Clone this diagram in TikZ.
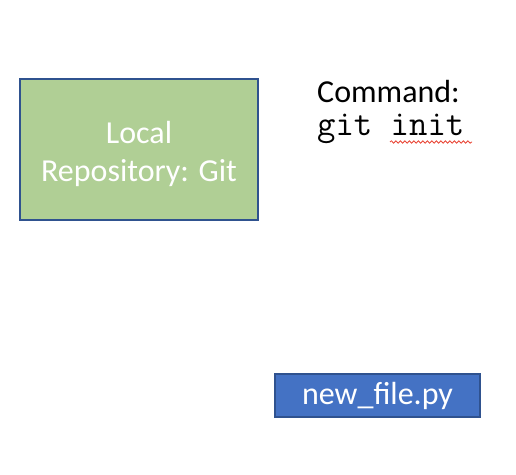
\documentclass[tikz,border=0pt]{standalone}
\usepackage{fontspec}
\setmainfont{Carlito}
\usetikzlibrary{decorations.pathmorphing}
\definecolor{boxgreen}{HTML}{B0CF95}
\definecolor{boxblue}{HTML}{4472C4}
\definecolor{boxedge}{HTML}{2F528F}
\definecolor{squig}{HTML}{E8402F}
\tikzset{
  box/.style={draw=boxedge, line width=1.3pt, inner sep=0pt, text=white,
    font=\fontsize{32}{38}\selectfont, align=center},
  label/.style={inner sep=0pt, anchor=base west, text=black}
}
\begin{document}
\begin{tikzpicture}[x=1pt,y=-1pt]
\useasboundingbox (0,0) rectangle (516,474);
\node[box, fill=boxgreen, minimum width=238pt, minimum height=141pt] (repo) at (139,149.5) {\raisebox{-4pt}[\height][\depth]{\parbox{230pt}{\centering Local\\Repository: Git}}};
\node[box, fill=boxblue, minimum width=205pt, minimum height=43pt] (file) at (377.5,395.5) {new\_file.py};
\node[label, font=\fontsize{32}{38}\selectfont] (cmd) at (317,102) {Command:};
\node[label, font=\ttfamily\fontsize{35.7}{38}\selectfont] (code) at (317,135) {git init};
\coordinate (sqa) at (390,142);
\coordinate (sqb) at (472,142);
\draw[squig, line width=0.8pt, decorate, decoration={snake, amplitude=1.2pt, segment length=4.5pt}] (sqa) -- (sqb);
\end{tikzpicture}
\end{document}
